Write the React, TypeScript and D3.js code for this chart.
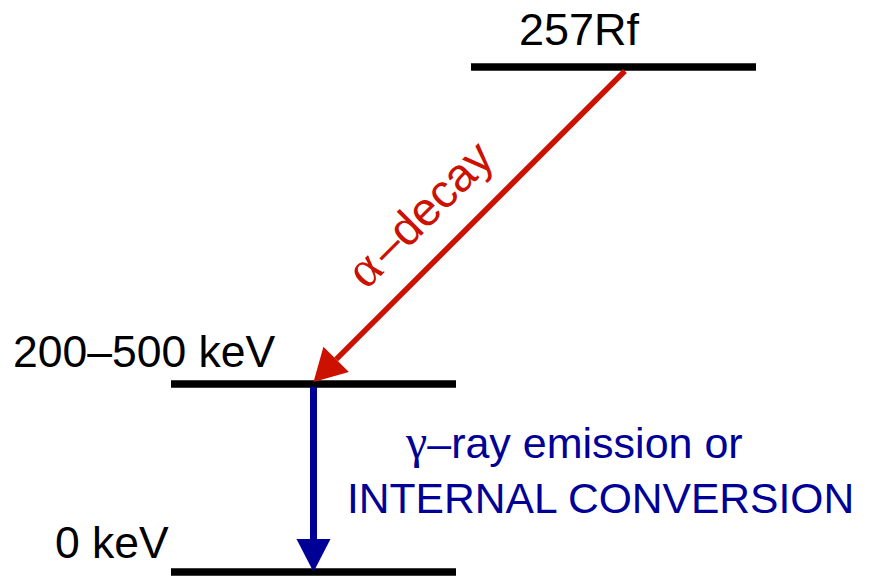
import React from 'react'
import * as d3 from 'd3'

// energy levels (top to bottom)
const levelNames = ['257Rf', '200–500 keV', '0 keV']
const levelColumn = ['high', 'low', 'low']
const levelRank = ['parent', 'excited', 'ground']

// transitions: [from level, to level, position along level]
const alphaFrom = 0
const alphaTo = 1
const gammaFrom = 1
const gammaTo = 2
const alphaStartFrac = 0.54
const alphaEndFrac = 0.5

const alphaLabel = ['α', '–decay']
const gammaLabel1 = ['γ', '–ray emission or']
const gammaLabel2 = 'INTERNAL CONVERSION'

const W = 870
const H = 576
const RED = '#cc1100'
const BLUE = '#000096'
const FONT = '"Liberation Sans", Arial, Helvetica, sans-serif'
const GREEK = '"Liberation Serif", "DejaVu Serif", serif'

function arrowHead(tipX: number, tipY: number, fromX: number, fromY: number, len: number, half: number) {
  const a = Math.atan2(tipY - fromY, tipX - fromX)
  const bx = tipX - len * Math.cos(a)
  const by = tipY - len * Math.sin(a)
  const nx = -Math.sin(a), ny = Math.cos(a)
  return {
    base: [bx, by],
    pts: [[tipX, tipY], [bx + nx * half, by + ny * half], [bx - nx * half, by - ny * half]]
  }
}

export default function App() {
  const x = d3.scaleBand<string>().domain(['low', 'high']).range([171, 756]).paddingInner(0.05).paddingOuter(0)
  const y = d3.scaleOrdinal<string, number>().domain(['parent', 'excited', 'ground']).range([67, 384, 572])

  const bw = x.bandwidth()
  const lx = (i: number, f: number) => (x(levelColumn[i]) as number) + bw * f
  const ly = (i: number) => y(levelRank[i])

  // alpha arrow
  const ax0 = lx(alphaFrom, alphaStartFrac), ay0 = ly(alphaFrom) + 4
  const ax1 = lx(alphaTo, alphaEndFrac), ay1 = ly(alphaTo) - 2
  const aHead = arrowHead(ax1, ay1, ax0, ay0, 32, 18)

  // gamma arrow
  const gx = lx(gammaFrom, alphaEndFrac)
  const gy0 = ly(gammaFrom) + 3, gy1 = ly(gammaTo)
  const gHead = arrowHead(gx, gy1, gx, gy0, 33, 17)

  const line = d3.line()
  const angle = Math.atan2(ay1 - ay0, ax1 - ax0) * 180 / Math.PI + 180

  // label baseline parallel to alpha arrow, offset to upper-left
  const mx = (ax0 + ax1) / 2 - 38, my = (ay0 + ay1) / 2 - 1

  return (
    <svg width={W} height={H} style={{ position: 'absolute', left: 0, top: 0, background: '#fff' }} fontFamily={FONT}>
      {levelNames.map((n, i) => (
        <line key={n} x1={x(levelColumn[i])} x2={(x(levelColumn[i]) as number) + bw} y1={ly(i)} y2={ly(i)} stroke="#000" strokeWidth={7.5} />
      ))}
      <text x={519} y={45} fontSize={45} fill="#000">{levelNames[0]}</text>
      <text x={13} y={367} fontSize={44.5} fill="#000">{levelNames[1]}</text>
      <text x={55} y={558} fontSize={44.5} fill="#000">{levelNames[2]}</text>

      <path d={line([[ax0, ay0], aHead.base as [number, number]]) as string} stroke={RED} strokeWidth={5.5} fill="none" />
      <path d={line(aHead.pts as [number, number][]) + 'Z'} fill={RED} />

      <path d={line([[gx, gy0], gHead.base as [number, number]]) as string} stroke={BLUE} strokeWidth={7} fill="none" />
      <path d={line(gHead.pts as [number, number][]) + 'Z'} fill={BLUE} />

      <text transform={`translate(${mx},${my}) rotate(${angle})`} textAnchor="middle" fontSize={47} fill={RED}>
        <tspan fontFamily={GREEK} fontSize={52}>{alphaLabel[0]}</tspan>
        <tspan dx={5}>{alphaLabel[1]}</tspan>
      </text>

      <text x={406} y={458} fontSize={43} fill={BLUE}>
        <tspan fontFamily={GREEK} fontSize={48}>{gammaLabel1[0]}</tspan>
        <tspan>{gammaLabel1[1]}</tspan>
      </text>
      <text x={347} y={513} fontSize={42.6} fill={BLUE}>{gammaLabel2}</text>
    </svg>
  )
}
